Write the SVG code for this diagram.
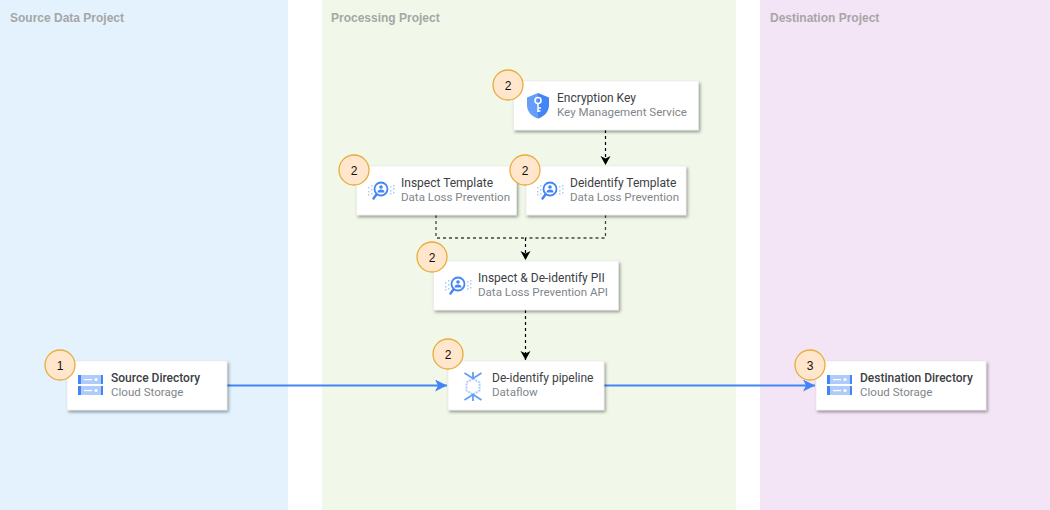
<svg xmlns="http://www.w3.org/2000/svg" width="1050" height="510" viewBox="0 0 1050 510">
<style>
text{font-family:Roboto,"Liberation Sans",sans-serif}
.lane-t{font-family:"Liberation Sans",Arial,sans-serif;font-size:12px;font-weight:700;fill:#a6a6a6}
.card{fill:#fff;stroke:#e3e3e3;stroke-width:.5;filter:url(#sh)}
.t{font-size:12px;fill:#3c4043}
.b{font-weight:500}
.s{font-size:11.55px;fill:#80868b}
.badge{fill:#ffe6cc;stroke:#e8ac38;stroke-width:1.3}
.n{font-family:"Liberation Sans",Arial,sans-serif;font-size:12px;fill:#111;text-anchor:middle}
.dash{fill:none;stroke:#000;stroke-width:1.2;stroke-dasharray:3 3}
.dash2{fill:none;stroke:#444;stroke-width:1.3;stroke-dasharray:3 3}
.flow{fill:none;stroke:#4285f4;stroke-width:2}
.bl{fill:#4285f4}.lb{fill:#aecbfa}
</style>
<defs>
<filter id="sh" x="-10%" y="-15%" width="120%" height="140%"><feDropShadow dx="1.500" dy="2" stdDeviation="1.800" flood-color="#000" flood-opacity=".38"/></filter>
<marker id="ab" markerUnits="userSpaceOnUse" markerWidth="12" markerHeight="12" refX="9" refY="5" orient="auto"><path d="M0 0L9 5L0 10L2.500 5Z" fill="#000"/></marker>
<marker id="af" markerUnits="userSpaceOnUse" markerWidth="14" markerHeight="14" refX="12" refY="6" orient="auto"><path d="M0 0L12 6L0 12L3 6Z" fill="#4285f4"/></marker>
<linearGradient id="shield" x1="0" x2="1" y1="0" y2="0"><stop offset=".5" stop-color="#669df6"/><stop offset=".5" stop-color="#4285f4"/></linearGradient>
<g id="storage">
<rect x="0" y="0" width="25" height="9" fill="#aecbfa"/><rect x="0" y="0" width="3" height="9" class="bl"/><rect x="23" y="0" width="2" height="9" class="bl"/>
<rect x="6" y="4" width="8" height="1.2" fill="#fff"/><circle cx="18" cy="4.5" r="1.5" fill="#fff"/>
<rect x="0" y="11" width="25" height="9" fill="#aecbfa"/><rect x="0" y="11" width="3" height="9" class="bl"/><rect x="23" y="11" width="2" height="9" class="bl"/>
<rect x="6" y="15" width="8" height="1.2" fill="#fff"/><circle cx="18" cy="15.5" r="1.5" fill="#fff"/>
</g>
<g id="dlp">
<g fill="#aecbfa"><rect x="0" y="6" width="1.5" height="1.5"/><rect x="3" y="8" width="1.5" height="1.5"/><rect x="0" y="10" width="1.5" height="1.5"/><rect x="3" y="4" width="1.5" height="1.5"/><rect x="3" y="12" width="1.5" height="1.5"/><rect x="0" y="13" width="1.5" height="1.5"/>
<rect x="22" y="5" width="1.5" height="1.5"/><rect x="25" y="7" width="1.5" height="1.5"/><rect x="22" y="9" width="1.5" height="1.5"/><rect x="25" y="4" width="1.5" height="1.5"/><rect x="25" y="11" width="1.5" height="1.5"/><rect x="22" y="12" width="1.5" height="1.5"/></g>
<circle cx="13" cy="8" r="6.5" fill="#fff" stroke="#4285f4" stroke-width="1.8"/>
<circle cx="13" cy="6" r="1.8" class="bl"/><path d="M9.5 11.5a3.5 3 0 0 1 7 0Z" class="bl"/>
<path d="M8.5 13.5L5.5 17.5" stroke="#4285f4" stroke-width="2.4" stroke-linecap="round"/>
</g>
</defs>
<rect width="1050" height="510" fill="#fff"/>
<g id="lanes">
<rect x="0" y="0" width="288" height="510" fill="#e3f2fd"/>
<rect x="322" y="0" width="414" height="510" fill="#f1f8e9"/>
<rect x="760" y="0" width="290" height="510" fill="#f3e5f5"/>
<text class="lane-t" x="10" y="22">Source Data Project</text>
<text class="lane-t" x="331" y="22">Processing Project</text>
<text class="lane-t" x="770" y="22">Destination Project</text>
</g>
<g id="connectors">
<path class="dash" d="M605.500 130V165" marker-end="url(#ab)"/>
<path class="dash2" d="M436 215V238H525"/>
<path class="dash2" d="M605.500 215V238H525"/>
<path class="dash" d="M525.500 238V260" marker-end="url(#ab)"/>
<path class="dash" d="M525.500 310V360" marker-end="url(#ab)"/>
<path class="flow" d="M227 385.500H447" marker-end="url(#af)"/>
<path class="flow" d="M604 385.500H815" marker-end="url(#af)"/>
</g>
<g id="node-key">
<rect class="card" x="513.500" y="81" width="185" height="49"/>
<path d="M538 93L549 97.500V105C549 112 544 116.500 538 118.500C532 116.500 527 112 527 105V97.500Z" fill="url(#shield)"/>
<circle cx="538" cy="100.500" r="3" fill="none" stroke="#fff" stroke-width="1.6"/><path d="M538 103.500V112M538 108H541M538 111H540.500" stroke="#fff" stroke-width="1.5" fill="none"/>
<text class="t" x="557" y="102">Encryption Key</text><text class="s" x="557" y="116">Key Management Service</text>
</g>
<g id="node-inspect">
<rect class="card" x="356.500" y="166" width="160" height="49"/>
<use href="#dlp" x="368" y="181"/>
<text class="t" x="401" y="187">Inspect Template</text><text class="s" x="401" y="201">Data Loss Prevention</text>
</g>
<g id="node-deid">
<rect class="card" x="526" y="166" width="160" height="49"/>
<use href="#dlp" x="537" y="181"/>
<text class="t" x="570" y="187">Deidentify Template</text><text class="s" x="570" y="201">Data Loss Prevention</text>
</g>
<g id="node-pii">
<rect class="card" x="433.500" y="261" width="185" height="49"/>
<use href="#dlp" x="445" y="276"/>
<text class="t" x="478" y="282">Inspect &amp; De-identify PII</text><text class="s" x="478" y="296">Data Loss Prevention API</text>
</g>
<g id="node-pipeline">
<rect class="card" x="448" y="361" width="156" height="49"/>
<path d="M473 378.500L479.500 382.500V390.500L473 394.500L466.500 390.500V382.500Z" fill="none" stroke="#aecbfa" stroke-width="2" stroke-dasharray="2 1"/>
<path d="M464.500 373L473 378.500L481.500 373M464.500 400L473 394.500L481.500 400M473 372V378.500M473 394.500V401" fill="none" stroke="#669df6" stroke-width="1.8"/>
<text class="t" x="492" y="382">De-identify pipeline</text><text class="s" x="492" y="396">Dataflow</text>
</g>
<g id="node-source">
<rect class="card" x="67" y="361" width="160" height="49"/>
<use href="#storage" x="78" y="375"/>
<text class="t b" x="111" y="382">Source Directory</text><text class="s" x="111" y="396">Cloud Storage</text>
</g>
<g id="node-dest">
<rect class="card" x="816" y="361" width="170" height="49"/>
<use href="#storage" x="827" y="375"/>
<text class="t b" x="860" y="382">Destination Directory</text><text class="s" x="860" y="396">Cloud Storage</text>
</g>
<g id="badges">
<circle class="badge" cx="508" cy="85" r="15"/><text class="n" x="508" y="89.500">2</text>
<circle class="badge" cx="354" cy="170" r="15"/><text class="n" x="354" y="174.500">2</text>
<circle class="badge" cx="525" cy="170" r="15"/><text class="n" x="525" y="174.500">2</text>
<circle class="badge" cx="432" cy="257" r="15"/><text class="n" x="432" y="261.500">2</text>
<circle class="badge" cx="448" cy="354" r="15"/><text class="n" x="448" y="358.500">2</text>
<circle class="badge" cx="60" cy="365" r="15"/><text class="n" x="60" y="369.500">1</text>
<circle class="badge" cx="810" cy="365" r="15"/><text class="n" x="810" y="369.500">3</text>
</g>
</svg>
